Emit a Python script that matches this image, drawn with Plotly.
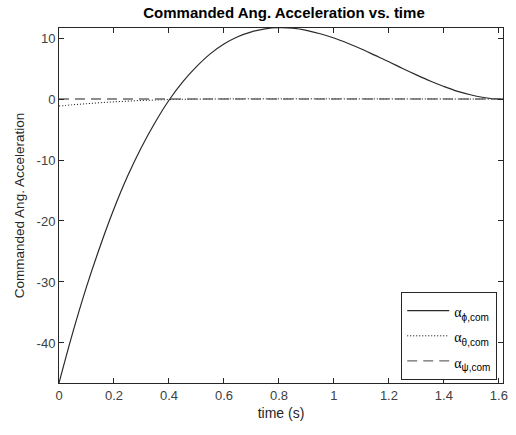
import plotly.graph_objects as go

# time samples (s)
time_s = [0.0, 0.05, 0.1, 0.15, 0.2, 0.25, 0.3, 0.35, 0.4, 0.45, 0.5, 0.55,
          0.6, 0.65, 0.7, 0.75, 0.8, 0.85, 0.9, 0.95, 1.0, 1.05, 1.1, 1.15,
          1.2, 1.25, 1.3, 1.35, 1.4, 1.45, 1.5, 1.55, 1.6, 1.615]

# commanded angular accelerations
alpha_phi = [-46.56, -38.3, -30.8, -24.1, -18.0, -12.6, -7.9, -3.8, -0.2, 2.8,
             5.3, 7.4, 9.0, 10.2, 11.0, 11.5, 11.68, 11.6, 11.26, 10.7, 10.0,
             9.15, 8.2, 7.15, 6.1, 5.0, 3.95, 2.95, 2.05, 1.25, 0.65, 0.2,
             0.01, 0.0]
alpha_theta = [-1.15, -0.95, -0.77, -0.61, -0.47, -0.35, -0.25, -0.17, -0.1,
               -0.05, -0.02, 0.0, 0.02, 0.03, 0.03, 0.03, 0.03, 0.03, 0.03,
               0.03, 0.03, 0.02, 0.02, 0.02, 0.02, 0.01, 0.01, 0.01, 0.01,
               0.0, 0.0, 0.0, 0.0, 0.0]
alpha_psi = [0.0] * len(time_s)

x_ticks = [0, 0.2, 0.4, 0.6, 0.8, 1.0, 1.2, 1.4, 1.6]
x_tick_labels = ["0", "0.2", "0.4", "0.6", "0.8", "1", "1.2", "1.4", "1.6"]
y_ticks = [-40, -30, -20, -10, 0, 10]
y_tick_labels = ["-40", "-30", "-20", "-10", "0", "10"]

AXIS = "#262626"
SANS = "Liberation Sans, Arial, sans-serif"
TICKFONT = dict(family=SANS, size=13, color="#404040")


def legend_label(sub):
    return ('<span style="font-family:Liberation Serif;font-size:14px">α</span>'
            '<sub><span style="font-size:10px">' + sub + '</span></sub>')


fig = go.Figure()
fig.add_trace(go.Scatter(
    x=time_s, y=alpha_phi, mode="lines", line_shape="spline",
    line=dict(color="#2a2a2a", width=1.2),
    name=legend_label("ϕ,com")))
fig.add_trace(go.Scatter(
    x=time_s, y=alpha_theta, mode="lines", line_shape="spline",
    line=dict(color="#000000", width=1, dash="1px,2px"),
    name=legend_label("θ,com")))
fig.add_trace(go.Scatter(
    x=time_s, y=alpha_psi, mode="lines",
    line=dict(color="#6a6a6a", width=1.3, dash="10px,6px"),
    name=legend_label("ψ,com")))

fig.update_layout(
    width=516, height=435,
    margin=dict(l=59, r=8, t=28, b=52),
    paper_bgcolor="white", plot_bgcolor="white",
    title=dict(text="<b>Commanded Ang. Acceleration vs. time</b>",
               x=284 / 516, xanchor="center", y=1 - 13 / 435, yanchor="middle",
               font=dict(family=SANS, size=15, color="#000000")),
    showlegend=True,
    legend=dict(x=0.987, xanchor="right", y=0.008, yanchor="bottom",
                bgcolor="white", bordercolor=AXIS, borderwidth=1,
                font=dict(family=SANS, size=17, color="#000000"),
                itemwidth=42, tracegroupgap=0),
    xaxis=dict(range=[0, 1.615], tickvals=x_ticks, ticktext=x_tick_labels,
               ticks="inside", ticklen=5, tickcolor=AXIS, showline=True,
               linecolor=AXIS, linewidth=1, mirror="ticks", showgrid=False,
               zeroline=False, tickfont=TICKFONT,
               title=dict(text="time (s)", standoff=6,
                          font=dict(family=SANS, size=14, color="#262626"))),
    yaxis=dict(range=[-46.56, 11.64], tickvals=y_ticks, ticktext=y_tick_labels,
               ticks="inside", ticklen=5, tickcolor=AXIS, showline=True,
               linecolor=AXIS, linewidth=1, mirror="ticks", showgrid=False,
               zeroline=False, tickfont=TICKFONT,
               title=dict(text="Commanded Ang. Acceleration", standoff=8,
                          font=dict(family=SANS, size=13.5, color="#262626"))),
)

fig.write_html("out.html")
